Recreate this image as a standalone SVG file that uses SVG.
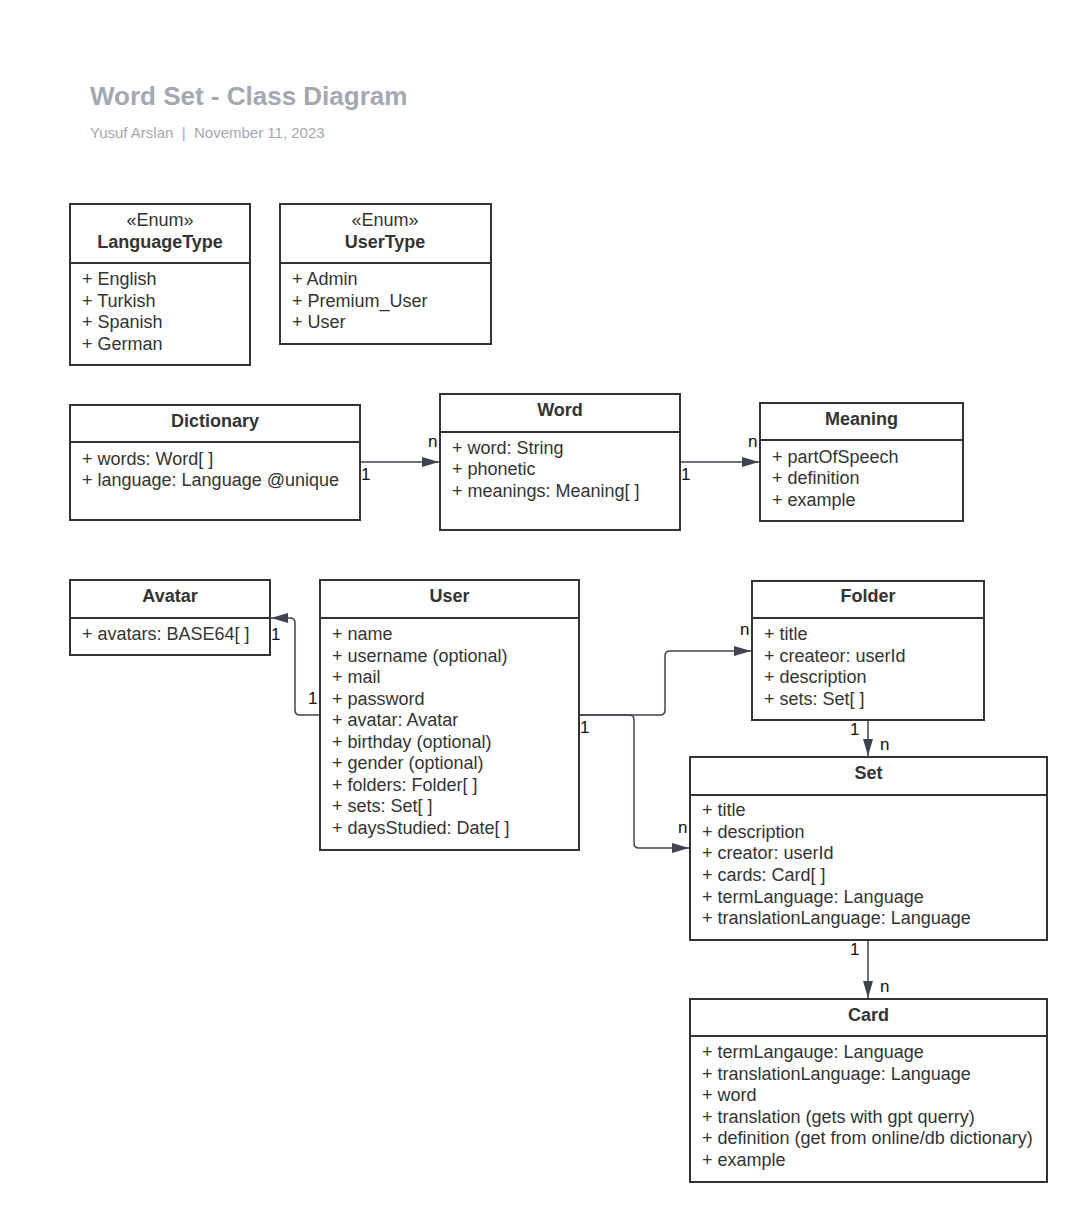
<svg xmlns="http://www.w3.org/2000/svg" width="1087" height="1222" viewBox="0 0 1087 1222">
<style>
.box{fill:#fff;stroke:#333;stroke-width:2}
.div{stroke:#333;stroke-width:2}
.t{font-family:"Liberation Sans",Arial,sans-serif;font-size:18px;fill:#333}
.h{font-family:"Liberation Sans",Arial,sans-serif;font-size:18px;font-weight:bold;fill:#333;text-anchor:middle}
.s{font-family:"Liberation Sans",Arial,sans-serif;font-size:18px;fill:#333;text-anchor:middle}
.c{fill:none;stroke:#3d4450;stroke-width:1.5}
.l{font-family:"Liberation Sans",Arial,sans-serif;font-size:17px;fill:#111}
</style>
<defs>
<marker id="arr" markerUnits="userSpaceOnUse" markerWidth="18" markerHeight="12" refX="17" refY="6" orient="auto">
<path d="M0,1 L17,6 L0,11 Z" fill="#3d4450"/>
</marker>
</defs>
<rect width="1087" height="1222" fill="#fff"/>
<text x="90" y="105" font-family="Liberation Sans,Arial,sans-serif" font-size="26" font-weight="bold" fill="#a3a8b2">Word Set - Class Diagram</text>
<text x="90" y="138" font-family="Liberation Sans,Arial,sans-serif" font-size="15" fill="#a3a8b2" xml:space="preserve">Yusuf Arslan  |  November 11, 2023</text>

<g id="LanguageType">
<rect class="box" x="70" y="204" width="180" height="161"/>
<line class="div" x1="70" y1="263" x2="250" y2="263"/>
<text class="s" x="160" y="226">«Enum»</text>
<text class="h" x="160" y="248">LanguageType</text>
<text class="t" x="82" y="285">+ English</text>
<text class="t" x="82" y="307">+ Turkish</text>
<text class="t" x="82" y="328">+ Spanish</text>
<text class="t" x="82" y="350">+ German</text>
</g>
<g id="UserType">
<rect class="box" x="280" y="204" width="211" height="140"/>
<line class="div" x1="280" y1="263" x2="491" y2="263"/>
<text class="s" x="385" y="226">«Enum»</text>
<text class="h" x="385" y="248">UserType</text>
<text class="t" x="292" y="285">+ Admin</text>
<text class="t" x="292" y="307">+ Premium_User</text>
<text class="t" x="292" y="328">+ User</text>
</g>
<g id="Dictionary">
<rect class="box" x="70" y="405" width="290" height="115"/>
<line class="div" x1="70" y1="442" x2="360" y2="442"/>
<text class="h" x="215" y="427">Dictionary</text>
<text class="t" x="82" y="465">+ words: Word[ ]</text>
<text class="t" x="82" y="486">+ language: Language @unique</text>
</g>
<g id="Word">
<rect class="box" x="440" y="394" width="240" height="136"/>
<line class="div" x1="440" y1="432" x2="680" y2="432"/>
<text class="h" x="560" y="416">Word</text>
<text class="t" x="452" y="454">+ word: String</text>
<text class="t" x="452" y="475">+ phonetic</text>
<text class="t" x="452" y="497">+ meanings: Meaning[ ]</text>
</g>
<g id="Meaning">
<rect class="box" x="760" y="403" width="203" height="118"/>
<line class="div" x1="760" y1="440" x2="963" y2="440"/>
<text class="h" x="861.5" y="425">Meaning</text>
<text class="t" x="772" y="463">+ partOfSpeech</text>
<text class="t" x="772" y="484">+ definition</text>
<text class="t" x="772" y="506">+ example</text>
</g>
<g id="Avatar">
<rect class="box" x="70" y="580" width="200" height="75"/>
<line class="div" x1="70" y1="618" x2="270" y2="618"/>
<text class="h" x="170" y="602">Avatar</text>
<text class="t" x="82" y="640">+ avatars: BASE64[ ]</text>
</g>
<g id="User">
<rect class="box" x="320" y="580" width="259" height="270"/>
<line class="div" x1="320" y1="618" x2="579" y2="618"/>
<text class="h" x="449.5" y="602">User</text>
<text class="t" x="332" y="640">+ name</text>
<text class="t" x="332" y="662">+ username (optional)</text>
<text class="t" x="332" y="683">+ mail</text>
<text class="t" x="332" y="705">+ password</text>
<text class="t" x="332" y="726">+ avatar: Avatar</text>
<text class="t" x="332" y="748">+ birthday (optional)</text>
<text class="t" x="332" y="769">+ gender (optional)</text>
<text class="t" x="332" y="791">+ folders: Folder[ ]</text>
<text class="t" x="332" y="812">+ sets: Set[ ]</text>
<text class="t" x="332" y="834">+ daysStudied: Date[ ]</text>
</g>
<g id="Folder">
<rect class="box" x="752" y="581" width="232" height="139"/>
<line class="div" x1="752" y1="618" x2="984" y2="618"/>
<text class="h" x="868" y="602">Folder</text>
<text class="t" x="764" y="640">+ title</text>
<text class="t" x="764" y="662">+ createor: userId</text>
<text class="t" x="764" y="683">+ description</text>
<text class="t" x="764" y="705">+ sets: Set[ ]</text>
</g>
<g id="Set">
<rect class="box" x="690" y="757" width="357" height="183"/>
<line class="div" x1="690" y1="795" x2="1047" y2="795"/>
<text class="h" x="868.5" y="779">Set</text>
<text class="t" x="702" y="816">+ title</text>
<text class="t" x="702" y="838">+ description</text>
<text class="t" x="702" y="859">+ creator: userId</text>
<text class="t" x="702" y="881">+ cards: Card[ ]</text>
<text class="t" x="702" y="903">+ termLanguage: Language</text>
<text class="t" x="702" y="924">+ translationLanguage: Language</text>
</g>
<g id="Card">
<rect class="box" x="690" y="999" width="357" height="183"/>
<line class="div" x1="690" y1="1036" x2="1047" y2="1036"/>
<text class="h" x="868.5" y="1021">Card</text>
<text class="t" x="702" y="1058">+ termLangauge: Language</text>
<text class="t" x="702" y="1080">+ translationLanguage: Language</text>
<text class="t" x="702" y="1101">+ word</text>
<text class="t" x="702" y="1123">+ translation (gets with gpt querry)</text>
<text class="t" x="702" y="1144">+ definition (get from online/db dictionary)</text>
<text class="t" x="702" y="1166">+ example</text>
</g>

<g id="connectors">
<path class="c" d="M361,462 H439" marker-end="url(#arr)"/>
<text class="l" x="361" y="480">1</text>
<text class="l" x="428" y="447">n</text>
<path class="c" d="M681,462 H759" marker-end="url(#arr)"/>
<text class="l" x="681" y="480">1</text>
<text class="l" x="748" y="447">n</text>
<path class="c" d="M319,715 H300 Q295,715 295,710 V623 Q295,618 290,618 H271" marker-end="url(#arr)"/>
<text class="l" x="271" y="640">1</text>
<text class="l" x="308" y="704">1</text>
<path class="c" d="M580,715 H660 Q665,715 665,710 V656 Q665,651 670,651 H751" marker-end="url(#arr)"/>
<path class="c" d="M580,715 H629 Q634,715 634,720 V843 Q634,848 639,848 H689" marker-end="url(#arr)"/>
<text class="l" x="580" y="733">1</text>
<text class="l" x="740" y="635">n</text>
<text class="l" x="678" y="833">n</text>
<path class="c" d="M868,721 V756" marker-end="url(#arr)"/>
<text class="l" x="850" y="735">1</text>
<text class="l" x="880" y="750">n</text>
<path class="c" d="M868,941 V998" marker-end="url(#arr)"/>
<text class="l" x="850" y="955">1</text>
<text class="l" x="880" y="992">n</text>
</g>
</svg>
